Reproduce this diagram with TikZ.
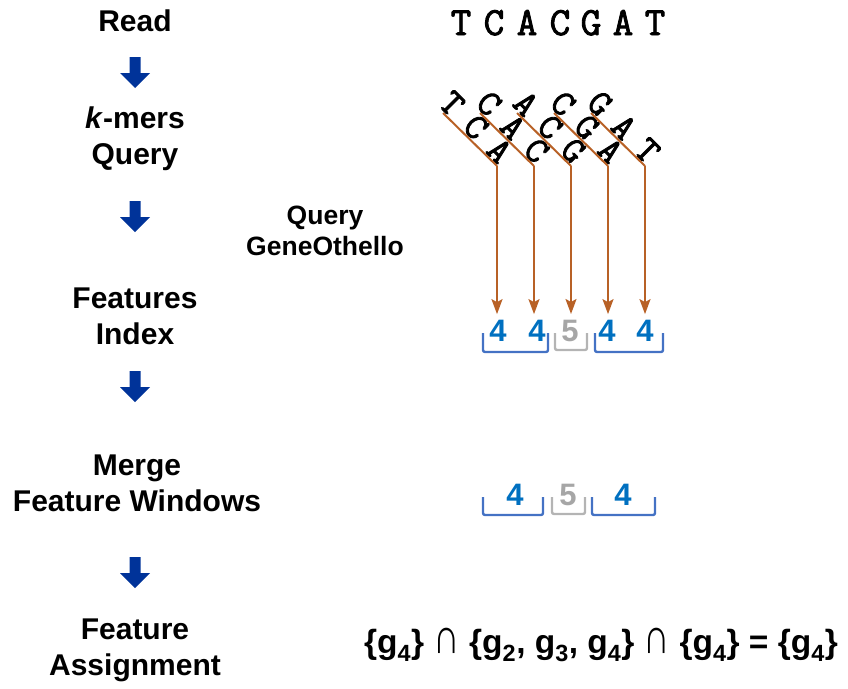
\documentclass[tikz,border=0pt]{standalone}
\usepackage{fontspec}
\usepackage{graphicx}
\setmainfont{Liberation Sans}
\newfontfamily\courb[FakeBold=2.2]{Latin Modern Mono}
\usetikzlibrary{arrows.meta}
\definecolor{navy}{RGB}{0,51,153}
\definecolor{rust}{RGB}{184,97,38}
\definecolor{numblue}{RGB}{0,112,192}
\definecolor{brblue}{RGB}{68,114,196}
\definecolor{numgray}{RGB}{166,166,166}
\definecolor{brgray}{RGB}{180,180,180}
\newcommand{\capsym}{\scalebox{1.1}[1.5]{\mdseries ∩}}
\tikzset{
  blockarrow/.pic={\fill[navy] (-5.5,0) -- (5.5,0) -- (5.5,16) -- (15,16) -- (0,31) -- (-15,16) -- (-5.5,16) -- cycle;},
  steplabel/.style={font=\fontsize{30}{36}\selectfont\bfseries, align=center, inner sep=0pt},
  sidelabel/.style={font=\fontsize{26.5}{31}\selectfont\bfseries, align=center, inner sep=0pt},
  toplet/.style={font=\fontsize{40}{44}\selectfont\courb, anchor=base, inner sep=0pt},
  kmer/.style={font=\fontsize{37}{40}\selectfont\courb, rotate=-45, inner sep=0pt},
  numb/.style={font=\fontsize{31}{36}\selectfont\bfseries, inner sep=0pt, text=numblue},
  numg/.style={font=\fontsize{31}{36}\selectfont\bfseries, inner sep=0pt, text=numgray},
  kline/.style={rust, line width=2pt},
  karrow/.style={rust, line width=2pt, -{Stealth[width=11pt,length=15pt,inset=3pt]}},
  brb/.style={brblue, line width=2.4pt, rounded corners=2pt},
  brg/.style={brgray, line width=2.4pt, rounded corners=2pt},
}
\begin{document}
\begin{tikzpicture}[x=1pt,y=-1pt]
\useasboundingbox (0,0) rectangle (848,688);
% left column
\node[steplabel] (read) at (135,21) {Read};
\node[steplabel] (kmers) at (135,139) {\textit{k}-mers\\Query};
\node[steplabel] (feat) at (135,316) {Features\\Index};
\node[steplabel] (merge) at (137,483) {Merge\\Feature Windows};
\node[steplabel] (assign) at (135,650) {Feature\\Assignment};
\pic at (135,57) {blockarrow};
\pic at (135,201) {blockarrow};
\pic at (135,371) {blockarrow};
\pic at (135,557) {blockarrow};
\node[sidelabel] (qgo) at (325,231) {Query\\GeneOthello};
% read letters
\foreach \x/\l [count=\n] in {461/T,494/C,527/A,560/C,591/G,623/A,655/T}
  \node[toplet] (t\n) at (\x,35) {\l};
% feature numbers
\node[numb] (n0) at (498,331) {4};
\node[numb] (n1) at (537,331) {4};
\node[numg] (n2) at (570,331) {5};
\node[numb] (n3) at (607,331) {4};
\node[numb] (n4) at (645,331) {4};
% k-mers
\foreach \i/\a/\b/\c in {0/T/C/A,1/C/A/C,2/A/C/G,3/C/G/A,4/G/A/T}{
  \pgfmathsetmacro\sx{443+37*\i}
  \coordinate (s\i) at (\sx,113);
  \coordinate (e\i) at (\sx+54,166);
  \node[kmer] (k\i a) at (\sx+9,103.5) {\a};
  \node[kmer] (k\i b) at (\sx+33,127) {\b};
  \node[kmer] (k\i c) at (\sx+56.5,150.5) {\c};
  \draw[kline] (s\i) -- (e\i);
  \draw[karrow] (e\i) -- ([yshift=6pt]e\i |- n\i.north);
}
% brackets row 1
\draw[brb] (483,333) -- (483,352) -- (548,352) -- (548,333);
\draw[brg] (555,333) -- (555,350) -- (587,350) -- (587,333);
\draw[brb] (595,333) -- (595,352) -- (663,352) -- (663,333);
% merged windows
\node[numb] (m0) at (515,495) {4};
\node[numg] (m1) at (568,495) {5};
\node[numb] (m2) at (623,495) {4};
\draw[brb] (483,497) -- (483,515) -- (543,515) -- (543,497);
\draw[brg] (552,497) -- (552,514) -- (585,514) -- (585,497);
\draw[brb] (592,497) -- (592,515) -- (655,515) -- (655,497);
% formula
\node[font=\fontsize{33.5}{40}\selectfont\bfseries, inner sep=0pt] (formula) at (601,645)
  {\{g\textsubscript{4}\} \capsym{} \{g\textsubscript{2}, g\textsubscript{3}, g\textsubscript{4}\} \capsym{} \{g\textsubscript{4}\} = \{g\textsubscript{4}\}};
\end{tikzpicture}
\end{document}
